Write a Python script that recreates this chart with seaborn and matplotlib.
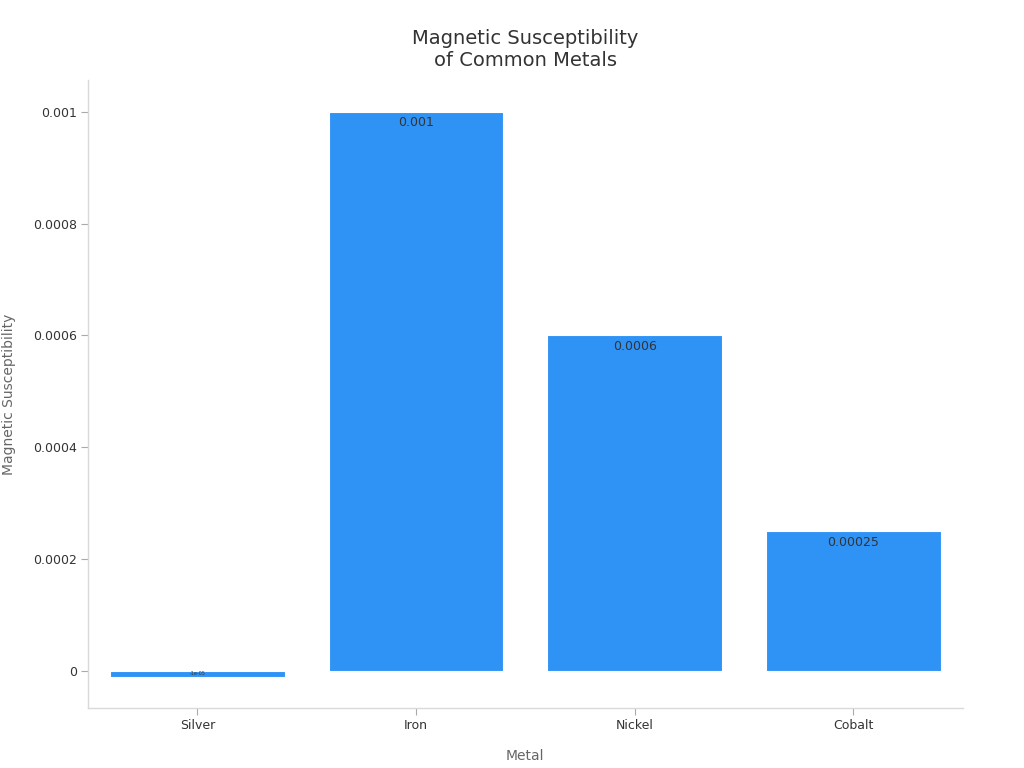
import matplotlib
matplotlib.use("Agg")
import matplotlib.pyplot as plt
import matplotlib.ticker as mticker
import seaborn as sns

# -----------------------------
# DATA
# -----------------------------
metals = ["Silver", "Iron", "Nickel", "Cobalt"]
susceptibility = [-0.00001, 0.001, 0.0006, 0.00025]
bar_labels = ["-1e-05", "0.001", "0.0006", "0.00025"]

# -----------------------------
# PLOT
# -----------------------------
sns.set_style("white")
plt.rcParams["font.family"] = ["DejaVu Sans"]

fig = plt.figure(figsize=(10.24, 7.68), dpi=100)
ax = fig.add_axes([0.086, 0.078, 0.854, 0.818])

sns.barplot(x=metals, y=susceptibility, color="#2E93F5", saturation=1,
            width=0.8, edgecolor="white", linewidth=0.8, ax=ax)

# value labels just inside the top of each bar
for i, (v, lab) in enumerate(zip(susceptibility, bar_labels)):
    if v < 0:
        ax.text(i, v / 2, lab, ha="center", va="center", fontsize=3.5, color="#333333")
    else:
        ax.text(i, v - 0.000008, lab, ha="center", va="top", fontsize=9, color="#333333")

ax.set_xlim(-0.5, 3.5)
ax.set_ylim(-0.0000662, 0.001057)
ax.set_yticks([0, 0.0002, 0.0004, 0.0006, 0.0008, 0.001])
ax.yaxis.set_major_formatter(mticker.FuncFormatter(lambda v, p: f"{v:g}" if abs(v) > 1e-12 else "0"))

ax.set_title("Magnetic Susceptibility\nof Common Metals", fontsize=14, color="#333333", pad=10)
ax.set_xlabel("Metal", fontsize=10, color="#666666", labelpad=12)
ax.set_ylabel("Magnetic Susceptibility", fontsize=10, color="#666666", labelpad=12)

ax.tick_params(axis="both", labelsize=9, labelcolor="#333333", length=5, width=0.8,
               color="#aaaaaa", bottom=True, left=True, pad=3)
for side in ["top", "right"]:
    ax.spines[side].set_visible(False)
for side in ["left", "bottom"]:
    ax.spines[side].set_color("#d9d9d9")
    ax.spines[side].set_linewidth(1)

plt.savefig("out.png", dpi=100)
